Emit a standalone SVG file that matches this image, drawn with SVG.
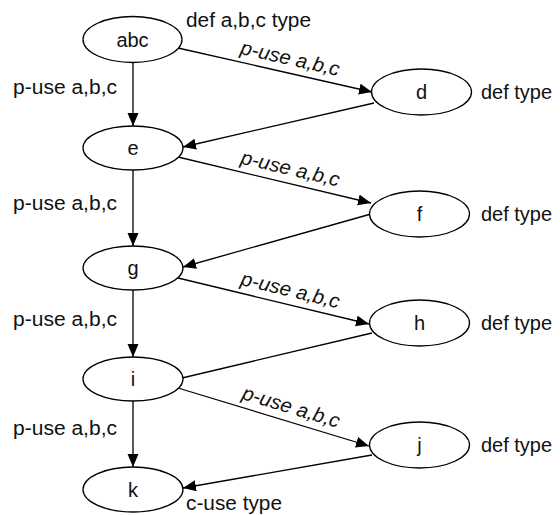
<svg xmlns="http://www.w3.org/2000/svg" width="560" height="515" viewBox="0 0 560 515">
<defs>
<marker id="arr" markerUnits="userSpaceOnUse" markerWidth="14" markerHeight="12" refX="13" refY="5.5" orient="auto">
<path d="M0,0 L13,5.5 L0,11 z" fill="#000"/>
</marker>
<style>
.n ellipse{fill:#fff;stroke:#000;stroke-width:1.3}
text{font-family:"Liberation Sans",Arial,sans-serif;font-size:20px;fill:#111}
.c{text-anchor:middle}
.it{font-style:italic;text-anchor:middle}
#edges line{stroke:#000;stroke-width:1.3}
.a{marker-end:url(#arr)}
</style>
</defs>
<rect width="560" height="515" fill="#fff"/>
<g id="edges">
<line class="a" x1="133" y1="63" x2="133" y2="126"/>
<line class="a" x1="133" y1="170" x2="133" y2="246"/>
<line class="a" x1="133" y1="290" x2="133" y2="357"/>
<line class="a" x1="133" y1="401" x2="133" y2="467"/>
<line class="a" x1="178" y1="48" x2="372" y2="92"/>
<line class="a" x1="374" y1="103" x2="183" y2="147"/>
<line class="a" x1="178" y1="157" x2="371" y2="203"/>
<line class="a" x1="371" y1="214" x2="183" y2="267"/>
<line class="a" x1="178" y1="278" x2="369" y2="324"/>
<line x1="182" y1="378" x2="372" y2="333"/>
<line class="a" x1="178" y1="388" x2="369" y2="446"/>
<line class="a" x1="372" y1="455" x2="183" y2="488"/>
</g>
<g id="abc" class="n"><ellipse cx="132.5" cy="39.5" rx="49.5" ry="23"/><text class="c" x="132.5" y="47">abc</text></g>
<g id="d" class="n"><ellipse cx="421.5" cy="92" rx="50" ry="23"/><text class="c" x="421.5" y="99">d</text></g>
<g id="e" class="n"><ellipse cx="133" cy="148" rx="50" ry="22"/><text class="c" x="133" y="155">e</text></g>
<g id="f" class="n"><ellipse cx="419.5" cy="214" rx="50" ry="23"/><text class="c" x="419.5" y="221">f</text></g>
<g id="g" class="n"><ellipse cx="133" cy="268" rx="50" ry="22"/><text class="c" x="133" y="275">g</text></g>
<g id="h" class="n"><ellipse cx="419.5" cy="323" rx="50" ry="23"/><text class="c" x="419.5" y="330">h</text></g>
<g id="i" class="n"><ellipse cx="133" cy="379" rx="50" ry="22"/><text class="c" x="133" y="386">i</text></g>
<g id="j" class="n"><ellipse cx="419.5" cy="445" rx="50" ry="23"/><text class="c" x="419.5" y="452">j</text></g>
<g id="k" class="n"><ellipse cx="133" cy="489.5" rx="50" ry="22.5"/><text class="c" x="133" y="496.5">k</text></g>
<g id="labels">
<text x="186" y="27" textLength="125" lengthAdjust="spacingAndGlyphs">def a,b,c type</text>
<text x="186" y="510" textLength="96" lengthAdjust="spacingAndGlyphs">c-use type</text>
<text x="13" y="94" textLength="104" lengthAdjust="spacingAndGlyphs">p-use a,b,c</text>
<text x="13" y="210" textLength="104" lengthAdjust="spacingAndGlyphs">p-use a,b,c</text>
<text x="13" y="326" textLength="104" lengthAdjust="spacingAndGlyphs">p-use a,b,c</text>
<text x="13" y="435" textLength="104" lengthAdjust="spacingAndGlyphs">p-use a,b,c</text>
<text x="481" y="99" textLength="71" lengthAdjust="spacingAndGlyphs">def type</text>
<text x="481" y="221" textLength="71" lengthAdjust="spacingAndGlyphs">def type</text>
<text x="481" y="330" textLength="71" lengthAdjust="spacingAndGlyphs">def type</text>
<text x="481" y="452" textLength="71" lengthAdjust="spacingAndGlyphs">def type</text>
<text class="it" transform="translate(287,72.7) rotate(12.8)" x="0" y="-8" textLength="101" lengthAdjust="spacingAndGlyphs">p-use a,b,c</text>
<text class="it" transform="translate(287,182.8) rotate(13.3)" x="0" y="-8" textLength="101" lengthAdjust="spacingAndGlyphs">p-use a,b,c</text>
<text class="it" transform="translate(287,304.3) rotate(13.5)" x="0" y="-8" textLength="101" lengthAdjust="spacingAndGlyphs">p-use a,b,c</text>
<text class="it" transform="translate(287,421) rotate(16.9)" x="0" y="-8" textLength="101" lengthAdjust="spacingAndGlyphs">p-use a,b,c</text>
</g>
</svg>
